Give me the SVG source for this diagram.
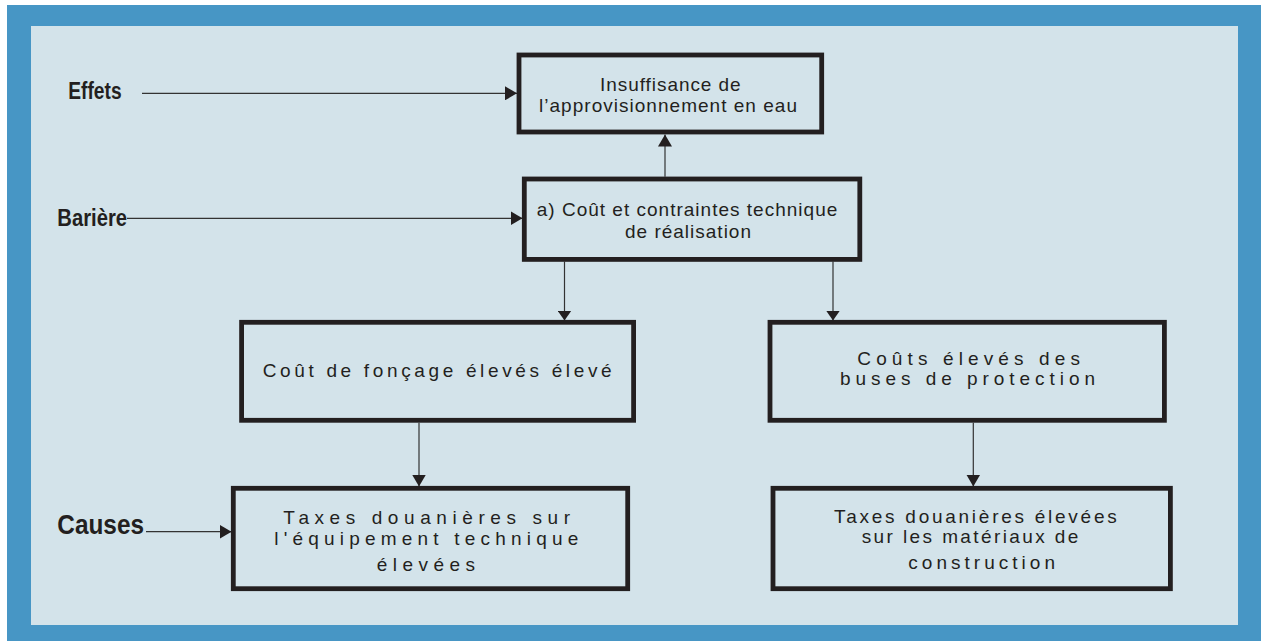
<svg xmlns="http://www.w3.org/2000/svg" width="1261" height="641" viewBox="0 0 1261 641">
<style>
.box{fill:#D3E3EA;stroke:#231F20;stroke-width:4.8}
.t{font-family:"Liberation Sans",Arial,sans-serif;font-size:19px;fill:#231F20}
.lab{font-family:"Liberation Sans",Arial,sans-serif;font-weight:bold;fill:#231F20}
.con{fill:none;stroke:#333;stroke-width:1.2}
</style>
<defs>
<marker id="ah" markerUnits="userSpaceOnUse" viewBox="0 0 12 14" refX="12" refY="7" markerWidth="12" markerHeight="14" orient="auto">
<path d="M0,0 L12,7 L0,14 z" fill="#231F20"/>
</marker>
<marker id="as" markerUnits="userSpaceOnUse" viewBox="0 0 10 14" refX="10" refY="7" markerWidth="10" markerHeight="14" orient="auto">
<path d="M0,0 L10,7 L0,14 z" fill="#231F20"/>
</marker>
</defs>
<rect x="7" y="5" width="1254" height="636" fill="#4796C5"/>
<rect x="31" y="26" width="1207" height="599" fill="#D3E3EA"/>

<g id="label-effets"><text class="lab" x="68.3" y="99" font-size="23" textLength="53.3" lengthAdjust="spacingAndGlyphs">Effets</text></g>
<g id="label-bariere"><text class="lab" x="57.3" y="226" font-size="23" textLength="69.7" lengthAdjust="spacingAndGlyphs">Barière</text></g>
<g id="label-causes"><text class="lab" x="57.3" y="534.3" font-size="27" textLength="86.7" lengthAdjust="spacingAndGlyphs">Causes</text></g>

<g id="connectors">
<path class="con" d="M142,93.3 H517" marker-end="url(#ah)"/>
<path class="con" d="M127,218.3 H522.5" marker-end="url(#ah)"/>
<path class="con" d="M146,531.7 H231.5" marker-end="url(#ah)"/>
<path class="con" d="M665,176.7 V134.5" marker-end="url(#ah)"/>
<path class="con" d="M564.5,261.5 V320.5" marker-end="url(#as)"/>
<path class="con" d="M833,261.5 V320.5" marker-end="url(#as)"/>
<path class="con" d="M419,422.7 V486.5" marker-end="url(#ah)"/>
<path class="con" d="M973.3,422.7 V486.5" marker-end="url(#ah)"/>
</g>

<g id="node-insuffisance">
<rect class="box" x="519" y="55" width="302.7" height="77"/>
<text class="t" x="600" y="91" textLength="140.7" lengthAdjust="spacing">Insuffisance de</text>
<text class="t" x="539" y="111.7" textLength="258" lengthAdjust="spacing">l’approvisionnement en eau</text>
</g>

<g id="node-cout-contraintes">
<rect class="box" x="524.3" y="179" width="335.5" height="80.4"/>
<text class="t" x="536.7" y="215.7" textLength="300.6" lengthAdjust="spacing">a) Coût et contraintes technique</text>
<text class="t" x="625" y="238.3" textLength="126" lengthAdjust="spacing">de réalisation</text>
</g>

<g id="node-foncage">
<rect class="box" x="241.6" y="322.3" width="392" height="98"/>
<text class="t" x="262.7" y="376.7" textLength="349" lengthAdjust="spacing">Coût de fonçage élevés élevé</text>
</g>

<g id="node-buses">
<rect class="box" x="770" y="322.3" width="394.4" height="98"/>
<text class="t" x="857.3" y="365" textLength="222.7" lengthAdjust="spacing">Coûts élevés des</text>
<text class="t" x="840" y="385" textLength="255" lengthAdjust="spacing">buses de protection</text>
</g>

<g id="node-taxes-equipement">
<rect class="box" x="233.3" y="488.3" width="394.4" height="100.4"/>
<text class="t" x="283.3" y="524.3" textLength="286.7" lengthAdjust="spacing">Taxes douanières sur</text>
<text class="t" x="274.3" y="544.6" textLength="304" lengthAdjust="spacing">l'équipement technique</text>
<text class="t" x="376.7" y="571" textLength="98.3" lengthAdjust="spacing">élevées</text>
</g>

<g id="node-taxes-materiaux">
<rect class="box" x="773" y="488.3" width="397.4" height="100.4"/>
<text class="t" x="834" y="523.3" textLength="282.7" lengthAdjust="spacing">Taxes douanières élevées</text>
<text class="t" x="861.7" y="543.3" textLength="216.7" lengthAdjust="spacing">sur les matériaux de</text>
<text class="t" x="908.3" y="569.3" textLength="146.7" lengthAdjust="spacing">construction</text>
</g>
</svg>
